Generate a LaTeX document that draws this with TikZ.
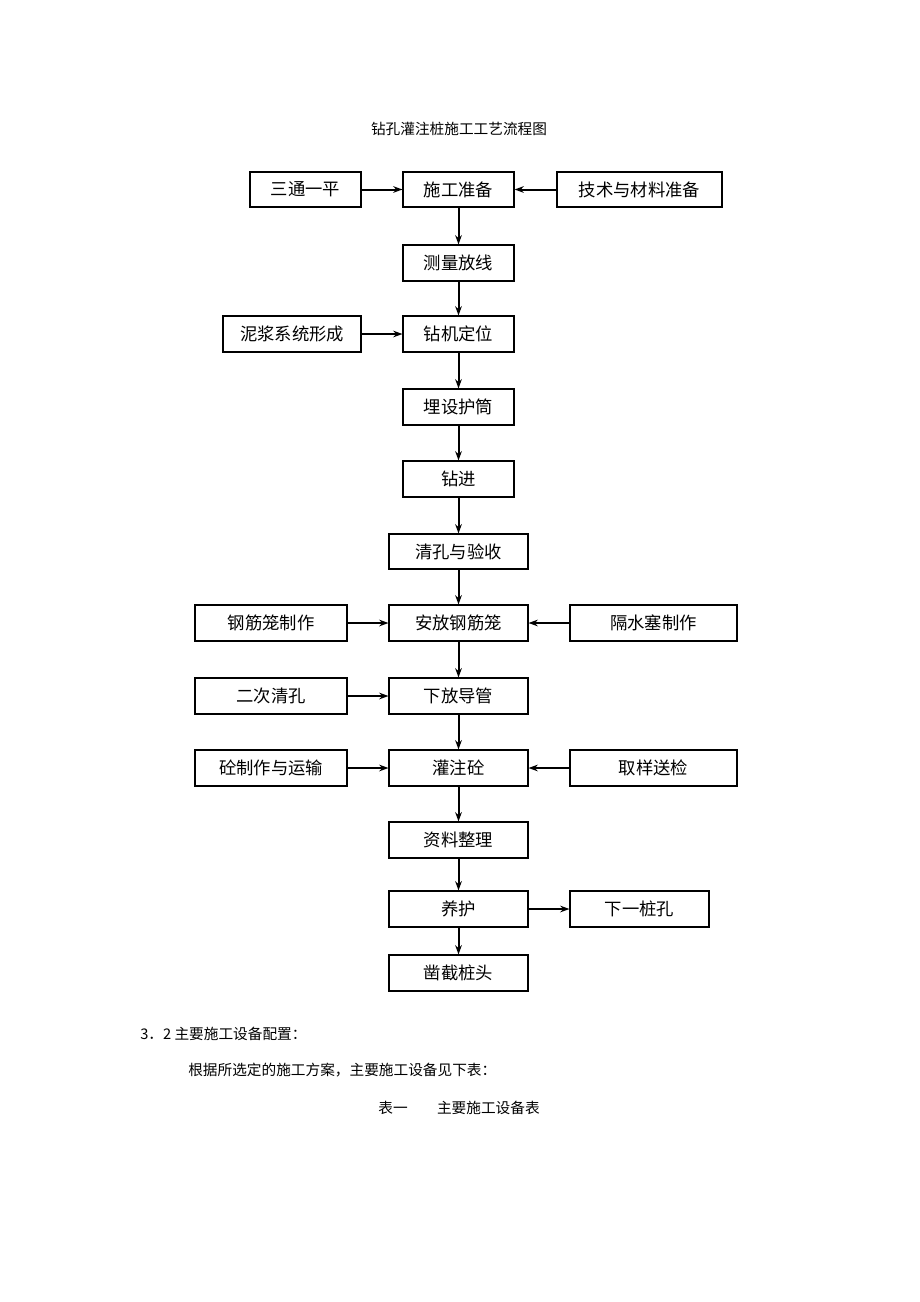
\documentclass[tikz,border=0pt]{standalone}
\usepackage{fontspec}
\setmainfont{Liberation Serif}
\newfontfamily\cjk{Noto Sans CJK SC}
\usetikzlibrary{arrows.meta}
\tikzset{
  box/.style={draw,line width=0.8pt,inner sep=0pt,font=\cjk\fontsize{13}{15}\selectfont},
  flow/.style={line width=1.5pt,-{Stealth[length=7pt,width=5pt]}},
  txt/.style={font=\cjk\fontsize{11}{13}\selectfont,inner sep=0pt}
}
\begin{document}
\begin{tikzpicture}[x=0.75pt,y=-0.75pt]
\useasboundingbox (0,0) rectangle (920,1302);

\node[txt] (title) at (459,129) {钻孔灌注桩施工工艺流程图};

% main column
\node[box,minimum width=83.25pt,minimum height=26.25pt] (zb) at (458.5,189.5) {施工准备};
\node[box,minimum width=83.25pt,minimum height=27pt] (cl) at (458.5,263) {测量放线};
\node[box,minimum width=83.25pt,minimum height=27pt] (dw) at (458.5,334) {钻机定位};
\node[box,minimum width=83.25pt,minimum height=27pt] (ht) at (458.5,407) {埋设护筒};
\node[box,minimum width=83.25pt,minimum height=27pt] (zj) at (458.5,479) {钻进};
\node[box,minimum width=104.25pt,minimum height=26.25pt] (qk) at (458.5,551.5) {清孔与验收};
\node[box,minimum width=104.25pt,minimum height=27pt] (af) at (458.5,623) {安放钢筋笼};
\node[box,minimum width=104.25pt,minimum height=27pt] (dg) at (458.5,696) {下放导管};
\node[box,minimum width=104.25pt,minimum height=27pt] (gz) at (458.5,768) {灌注砼};
\node[box,minimum width=104.25pt,minimum height=27pt] (zl) at (458.5,840) {资料整理};
\node[box,minimum width=104.25pt,minimum height=27pt] (yh) at (458.5,909) {养护};
\node[box,minimum width=104.25pt,minimum height=27pt] (zt) at (458.5,973) {凿截桩头};

% side boxes
\node[box,minimum width=83.25pt,minimum height=26.25pt] (stp) at (305.5,189.5) {三通一平};
\node[box,minimum width=123.75pt,minimum height=26.25pt] (js) at (639.5,189.5) {技术与材料准备};
\node[box,minimum width=103.5pt,minimum height=27pt] (nj) at (292,334) {泥浆系统形成};
\node[box,minimum width=114pt,minimum height=27pt] (gj) at (271,623) {钢筋笼制作};
\node[box,minimum width=125.25pt,minimum height=27pt] (gs) at (653.5,623) {隔水塞制作};
\node[box,minimum width=114pt,minimum height=27pt] (ec) at (271,696) {二次清孔};
\node[box,minimum width=114pt,minimum height=27pt] (tz) at (271,768) {砼制作与运输};
\node[box,minimum width=125.25pt,minimum height=27pt] (qy) at (653.5,768) {取样送检};
\node[box,minimum width=104.25pt,minimum height=27pt] (xy) at (639.5,909) {下一桩孔};

% connectors
\foreach \a/\b in {zb/cl,cl/dw,dw/ht,ht/zj,zj/qk,qk/af,af/dg,dg/gz,gz/zl,zl/yh,yh/zt}
  \draw[flow] (\a) -- (\b);
\foreach \a/\b in {stp/zb,nj/dw,gj/af,ec/dg,tz/gz}
  \draw[flow] (\a.east) -- (\b.west);
\foreach \a/\b in {js/zb,gs/af,qy/gz}
  \draw[flow] (\a.west) -- (\b.east);
\draw[flow] (yh.east) -- (xy.west);

\node[txt,anchor=west] (sec) at (140,1034) {3．2 主要施工设备配置：};
\node[txt,anchor=west] (para) at (188,1070) {根据所选定的施工方案，主要施工设备见下表：};
\node[txt] (tab) at (459,1108) {表一\quad\quad 主要施工设备表};
\end{tikzpicture}
\end{document}
